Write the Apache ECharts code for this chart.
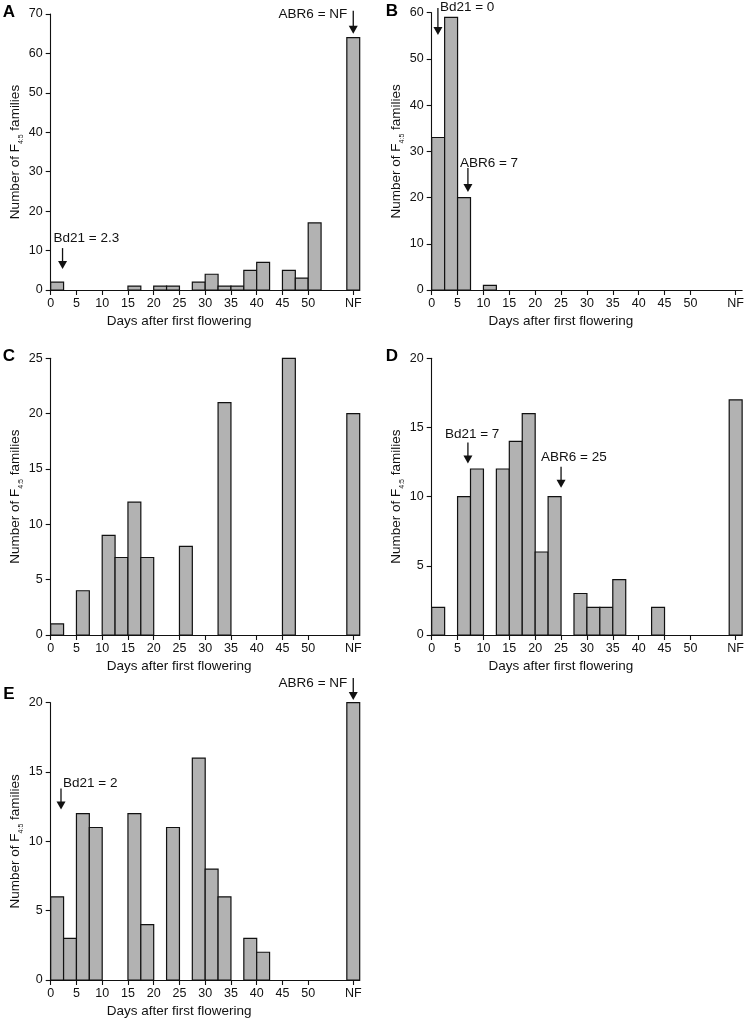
<!DOCTYPE html>
<html>
<head>
<meta charset="utf-8">
<script src="https://cdn.jsdelivr.net/npm/echarts@6/dist/echarts.min.js"></script>
<style>
html,body{margin:0;padding:0;background:#fff;}
#chart{width:747px;height:1022px;}
</style>
</head>
<body>
<div id="chart"></div>
<script>
// ---------- DATA ----------
// histogram bins of 2.5 days: bin start values
const binStarts = [0, 2.5, 5, 7.5, 10, 12.5, 15, 17.5, 20, 22.5, 25, 27.5, 30, 32.5, 35, 37.5, 40, 42.5, 45, 47.5, 50];
const binWidth = 2.5;
// "NF" (non-flowering) bin on the axis
const nfBin = [57.5, 60];
const nfTickValue = 58.75;
const tickValues = [0, 5, 10, 15, 20, 25, 30, 35, 40, 45, 50, 58.75];

const countsA = [2, 0, 0, 0, 0, 0, 1, 0, 1, 1, 0, 2, 4, 1, 1, 5, 7, 0, 5, 3, 17];
const nfA = 64;
const countsB = [33, 59, 20, 0, 1, 0, 0, 0, 0, 0, 0, 0, 0, 0, 0, 0, 0, 0, 0, 0, 0];
const nfB = 0;
const countsC = [1, 0, 4, 0, 9, 7, 12, 7, 0, 0, 8, 0, 0, 21, 0, 0, 0, 0, 25, 0, 0];
const nfC = 20;
const countsD = [2, 0, 10, 12, 0, 12, 14, 16, 6, 10, 0, 3, 2, 2, 4, 0, 0, 2, 0, 0, 0];
const nfD = 17;
const countsE = [6, 3, 12, 11, 0, 0, 12, 4, 0, 11, 0, 16, 8, 6, 0, 3, 2, 0, 0, 0, 0];
const nfE = 20;

const yMax = [70, 60, 25, 20, 20];
const yInterval = [10, 10, 5, 5, 5];
const panelLetters = ['A', 'B', 'C', 'D', 'E'];

// parental annotations: label, x (days), y (count at arrow tip)
const annotLabels = [
  ['Bd21 = 2.3', 'ABR6 = NF'],
  ['Bd21 = 0', 'ABR6 = 7'],
  [],
  ['Bd21 = 7', 'ABR6 = 25'],
  ['Bd21 = 2', 'ABR6 = NF']
];
const annotX = [
  [2.3, 58.75],
  [1.2, 7],
  [],
  [7, 25],
  [2, 58.75]
];
const annotY = [
  [5.3, 65.0],
  [55.2, 21.2],
  [],
  [12.4, 10.65],
  [12.3, 20.2]
];

// ---------- LAYOUT / STYLE ----------
const grids = [
  {left: 50.7, top: 14, right: 387.3, bottom: 732},
  {left: 431.7, top: 12.7, right: 3.9, bottom: 732},
  {left: 50.7, top: 358.3, right: 387.3, bottom: 387},
  {left: 431.7, top: 358.3, right: 3.9, bottom: 387},
  {left: 50.7, top: 702.7, right: 387.3, bottom: 42}
];
const letterPos = [[9, 12.5], [392, 11], [9, 356], [392, 356], [9, 694]];
// annotation text placement relative to arrow tip (px) and arrow length
const annotStyle = [
  [{dx: -9, dy: -31, align: 'left', len: 21}, {dx: -6, dy: -19, align: 'right', len: 23}],
  [{dx: 2, dy: -28, align: 'left', len: 27}, {dx: -8, dy: -29, align: 'left', len: 24}],
  [],
  [{dx: -23, dy: -29, align: 'left', len: 21}, {dx: -20, dy: -30, align: 'left', len: 21}],
  [{dx: 2, dy: -26, align: 'left', len: 21}, {dx: -6, dy: -17, align: 'right', len: 22}]
];
const FONT = "'Liberation Sans', Arial, Helvetica, sans-serif";
const INK = '#111';
const BAR_FILL = '#b2b2b2';

const allCounts = [countsA, countsB, countsC, countsD, countsE];
const allNF = [nfA, nfB, nfC, nfD, nfE];

function barData(p) {
  const d = [];
  allCounts[p].forEach((c, i) => {
    if (c > 0) d.push([binStarts[i], binStarts[i] + binWidth, c]);
  });
  if (allNF[p] > 0) d.push([nfBin[0], nfBin[1], allNF[p]]);
  return d;
}

const xAxes = [], yAxes = [], series = [], graphics = [];
for (let p = 0; p < 5; p++) {
  xAxes.push({
    type: 'value', gridIndex: p, min: 0, max: 60, interval: 5,
    name: 'Days after first flowering', nameLocation: 'middle', nameGap: 24,
    nameTextStyle: {fontFamily: FONT, fontSize: 13.5, color: INK, padding: [0, 52, 0, 0]},
    axisLine: {show: true, onZero: false, lineStyle: {color: INK, width: 1.1}},
    axisTick: {show: true, length: 5, inside: false, customValues: tickValues, lineStyle: {color: INK, width: 1.1}},
    axisLabel: {
      show: true, margin: 7, fontFamily: FONT, fontSize: 12.5, color: INK,
      customValues: tickValues,
      formatter: v => (Math.abs(v - nfTickValue) < 1e-6 ? 'NF' : String(v))
    },
    splitLine: {show: false}
  });
  yAxes.push({
    type: 'value', gridIndex: p, min: 0, max: yMax[p], interval: yInterval[p],
    name: '{a|Number of F}{s|4:5}{a| families}', nameLocation: 'middle', nameGap: 23,
    nameTextStyle: {
      fontFamily: FONT, color: INK,
      rich: {
        a: {fontFamily: FONT, fontSize: 13.5, color: INK, lineHeight: 20, verticalAlign: 'middle'},
        s: {fontFamily: FONT, fontSize: 7, color: INK, lineHeight: 9, verticalAlign: 'bottom'}
      }
    },
    axisLine: {show: true, lineStyle: {color: INK, width: 1.1}},
    axisTick: {show: true, length: 5, lineStyle: {color: INK, width: 1.1}},
    axisLabel: {show: true, margin: 8, fontFamily: FONT, fontSize: 12.5, color: INK},
    splitLine: {show: false}
  });
  series.push({
    type: 'custom', xAxisIndex: p, yAxisIndex: p,
    data: barData(p),
    encode: {x: [0, 1], y: 2},
    renderItem: function (params, api) {
      const topLeft = api.coord([api.value(0), api.value(2)]);
      const botRight = api.coord([api.value(1), 0]);
      return {
        type: 'rect',
        shape: {x: topLeft[0], y: topLeft[1], width: botRight[0] - topLeft[0], height: botRight[1] - topLeft[1]},
        style: {fill: BAR_FILL, stroke: INK, lineWidth: 1.2}
      };
    },
    z: 2
  });
  if (annotX[p].length) {
    const pp = p;
    series.push({
      type: 'custom', xAxisIndex: p, yAxisIndex: p, clip: false, silent: true,
      data: annotX[p].map((x, i) => [x, annotY[p][i]]),
      encode: {x: 0, y: 1},
      renderItem: function (params, api) {
        const tip = api.coord([api.value(0), api.value(1)]);
        const st = annotStyle[pp][params.dataIndex];
        const headH = 8, headW = 9;
        return {
          type: 'group',
          children: [
            {type: 'line', shape: {x1: tip[0], y1: tip[1] - st.len, x2: tip[0], y2: tip[1] - headH + 1},
             style: {stroke: INK, lineWidth: 1.3}},
            {type: 'polygon', shape: {points: [[tip[0] - headW / 2, tip[1] - headH], [tip[0] + headW / 2, tip[1] - headH], [tip[0], tip[1]]]},
             style: {fill: INK}},
            {type: 'text', x: tip[0] + st.dx, y: tip[1] + st.dy,
             style: {text: annotLabels[pp][params.dataIndex], fontFamily: FONT, fontSize: 13.5, fill: INK,
                     align: st.align, verticalAlign: 'middle'}}
          ]
        };
      },
      z: 5
    });
  }
  graphics.push({
    type: 'text', x: letterPos[p][0], y: letterPos[p][1],
    style: {text: panelLetters[p], fontFamily: FONT, fontSize: 17, fontWeight: 'bold', fill: '#000',
            align: 'center', verticalAlign: 'middle'}
  });
}

const chart = echarts.init(document.getElementById('chart'), null, {renderer: 'canvas'});
chart.setOption({
  animation: false,
  backgroundColor: '#fff',
  grid: grids.map(g => Object.assign({containLabel: false}, g)),
  xAxis: xAxes,
  yAxis: yAxes,
  series: series,
  graphic: graphics
});
</script>
</body>
</html>
